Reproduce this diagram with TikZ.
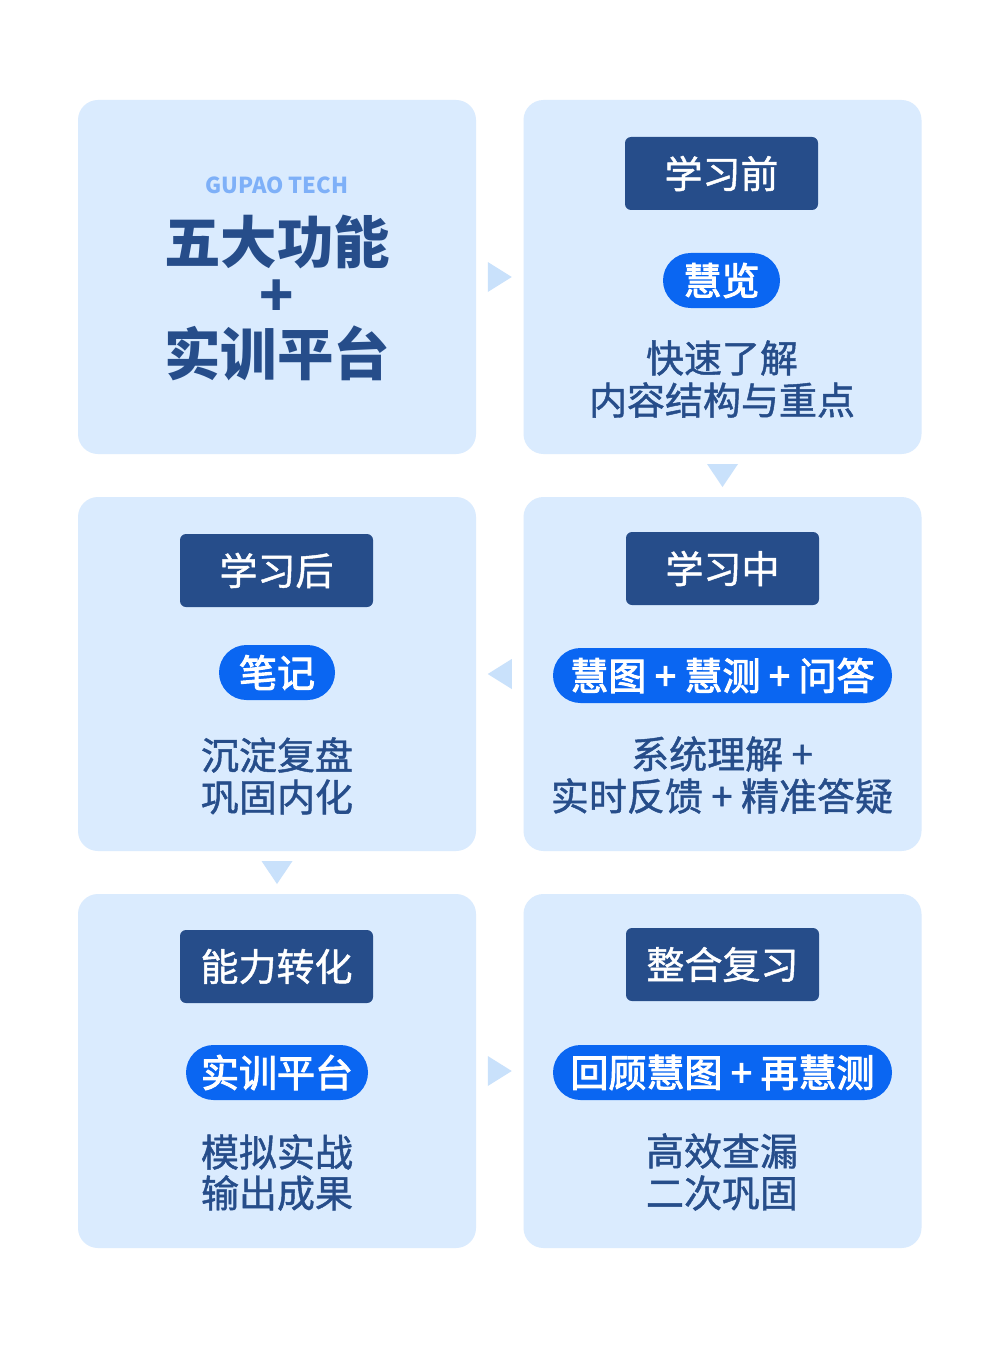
\documentclass[tikz,border=0pt]{standalone}
\usepackage{fontspec}
\setmainfont{Noto Sans CJK SC}
\newfontfamily\medfont[FakeBold=1.2]{Noto Sans CJK SC}
\newfontfamily\semifont[FakeBold=2.6]{Noto Sans CJK SC}
\usetikzlibrary{calc}
\definecolor{panelbg}{HTML}{DAEBFE}
\definecolor{navy}{HTML}{264D8A}
\definecolor{pillblue}{HTML}{0A66F2}
\definecolor{tricol}{HTML}{C9E1FB}
\definecolor{brandcol}{HTML}{7EB0F8}
\tikzset{
  panel/.style={fill=panelbg, rounded corners=20pt, minimum width=398pt, minimum height=354pt, inner sep=0pt},
  header/.style={fill=navy, rounded corners=6pt, minimum width=193pt, minimum height=73pt, inner sep=0pt, text=white, font=\medfont\fontsize{38}{42}\selectfont},
  pill/.style={fill=pillblue, rounded corners=27.5pt, minimum height=55pt, inner sep=0pt, text=white, font=\semifont\fontsize{38}{42}\selectfont},
  desc/.style={text=navy, inner sep=0pt, font=\medfont\fontsize{38}{42}\selectfont},
  tri/.style={fill=tricol}
}
\begin{document}
\begin{tikzpicture}[x=1pt,y=-1pt]
\useasboundingbox[fill=white] (0,0) rectangle (1000,1348);
% panels
\node[panel] (p1) at (277,277) {};
\node[panel] (p2) at (722.5,277) {};
\node[panel] (p3) at (722.5,674) {};
\node[panel] (p4) at (277,674) {};
\node[panel] (p5) at (277,1071) {};
\node[panel] (p6) at (722.5,1071) {};
% connectors (triangles)
\fill[tri] ($(p1.east)!0.5!(p2.west)$) coordinate (c12) ++(-12,-15) -- ++(24,15) -- ++(-24,15) -- cycle;
\fill[tri] ($(p2.south)!0.5!(p3.north)$) coordinate (c23) ++(-15.5,-11.5) -- ++(31,0) -- ++(-15.5,23) -- cycle;
\fill[tri] ($(p3.west)!0.5!(p4.east)$) coordinate (c34) ++(12,-15) -- ++(-24,15) -- ++(24,15) -- cycle;
\fill[tri] ($(p4.south)!0.5!(p5.north)$) coordinate (c45) ++(-15.5,-11.5) -- ++(31,0) -- ++(-15.5,23) -- cycle;
\fill[tri] ($(p5.east)!0.5!(p6.west)$) coordinate (c56) ++(-12,-15) -- ++(24,15) -- ++(-24,15) -- cycle;
% panel 1
\node[text=brandcol, inner sep=0pt, font=\bfseries\fontsize{22}{24}\selectfont] (brand) at (277,185) {GUPAO TECH};
\node[text=navy, inner sep=0pt, font=\bfseries\fontsize{56.5}{60}\selectfont] (t1) at (277,242) {五大功能};
\node[text=navy, inner sep=0pt, font=\bfseries\fontsize{56.5}{60}\selectfont] (t2) at (277,298) {+};
\node[text=navy, inner sep=0pt, font=\bfseries\fontsize{56.5}{60}\selectfont] (t3) at (277,353) {实训平台};
% panel 2
\node[header] (h2) at (721.5,173.5) {学习前};
\node[pill, minimum width=117pt] (q2) at (721.5,280.5) {慧览};
\node[desc] (d2a) at (722,358) {快速了解};
\node[desc] (d2b) at (722,400) {内容结构与重点};
% panel 3
\node[header] (h3) at (722.5,568.5) {学习中};
\node[pill, minimum width=339pt] (q3) at (722.5,675.5) {慧图 + 慧测 + 问答};
\node[desc] (d3a) at (722,754) {系统理解 +};
\node[desc] (d3b) at (722,796) {实时反馈 + 精准答疑};
% panel 4
\node[header] (h4) at (276.5,570.5) {学习后};
\node[pill, minimum width=116pt] (q4) at (277,672.5) {笔记};
\node[desc] (d4a) at (277,755) {沉淀复盘};
\node[desc] (d4b) at (277,797) {巩固内化};
% panel 5
\node[header] (h5) at (276.5,966.5) {能力转化};
\node[pill, minimum width=182pt] (q5) at (277,1072.5) {实训平台};
\node[desc] (d5a) at (277,1152) {模拟实战};
\node[desc] (d5b) at (277,1193) {输出成果};
% panel 6
\node[header] (h6) at (722.5,964.5) {整合复习};
\node[pill, minimum width=339pt] (q6) at (722.5,1072.5) {回顾慧图 + 再慧测};
\node[desc] (d6a) at (722,1151) {高效查漏};
\node[desc] (d6b) at (722,1193) {二次巩固};
\end{tikzpicture}
\end{document}
